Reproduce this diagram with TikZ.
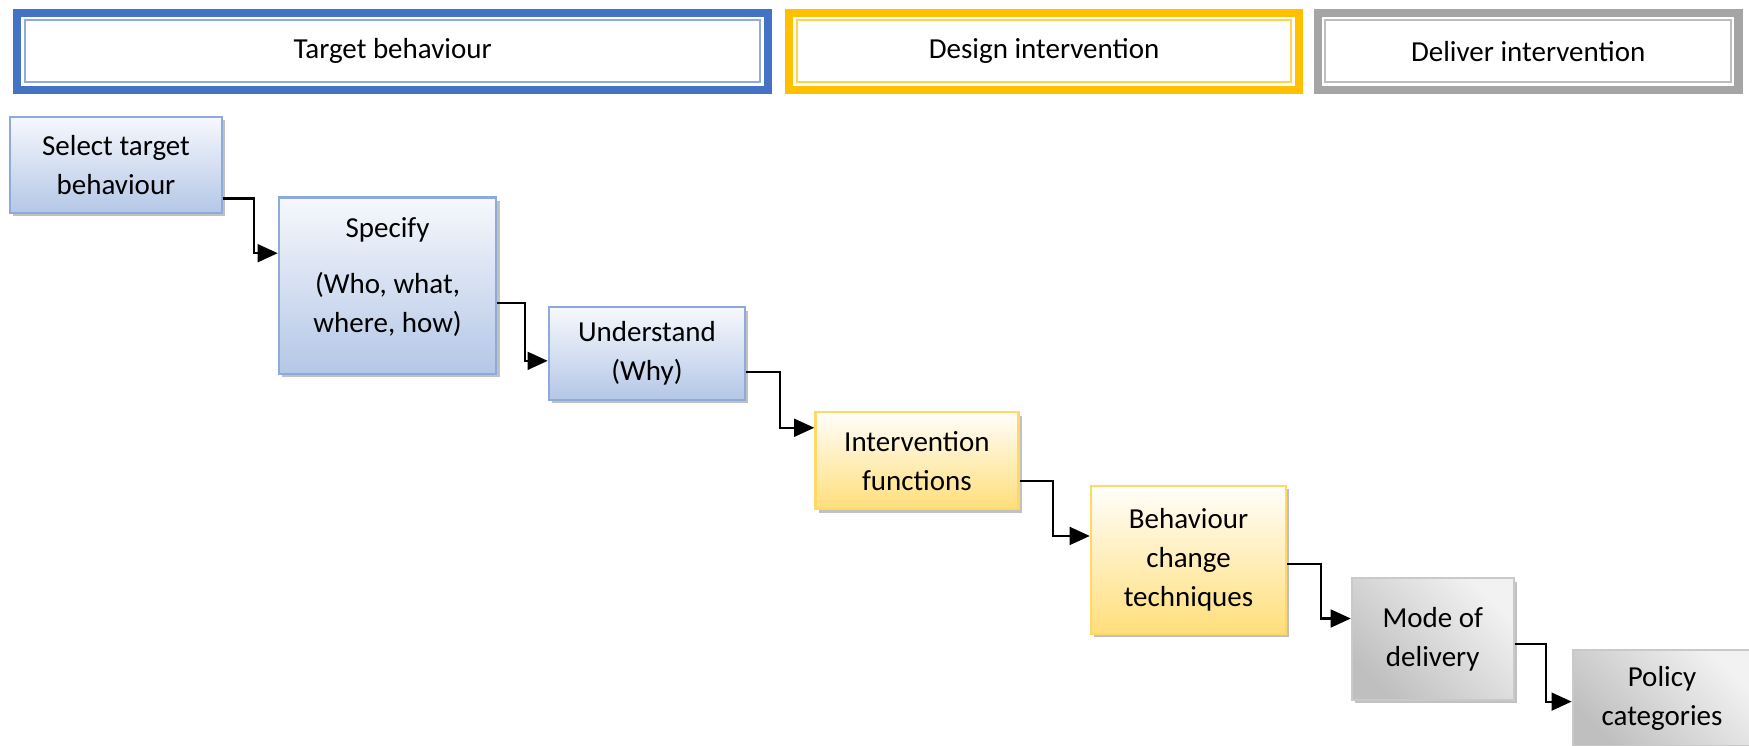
\documentclass[tikz,border=0pt]{standalone}
\usepackage{fontspec}
\setmainfont{Carlito}
\usetikzlibrary{arrows.meta,shadows,calc}
\definecolor{hblue}{HTML}{4472C4}
\definecolor{hblueL}{HTML}{8FAADC}
\definecolor{hyel}{HTML}{FFC000}
\definecolor{hyelL}{HTML}{FFD34D}
\definecolor{hgray}{HTML}{A5A5A5}
\definecolor{hgrayL}{HTML}{BDBDBD}
\definecolor{nbB}{HTML}{8EAADB}
\definecolor{nbBot}{HTML}{B4C7E7}
\definecolor{nbTop}{HTML}{F6F8FC}
\definecolor{nyB}{HTML}{FFD966}
\definecolor{nyBot}{HTML}{FFDE7A}
\definecolor{nyTop}{HTML}{FFFEFA}
\definecolor{ngB}{HTML}{C9C9C9}
\definecolor{ngDark}{HTML}{BFBFBF}
\definecolor{ngLight}{HTML}{F2F2F2}
\begin{document}
\begin{tikzpicture}[x=1pt,y=-1pt,
  font=\fontsize{26}{35}\selectfont,
  header/.style={draw=#1, fill=white, line width=7.5pt, minimum height=69pt, inner sep=0pt},
  inline/.style={draw=#1, line width=1.8pt},
  stepbox/.style={line width=2pt, align=center, inner sep=0pt,
    drop shadow={shadow xshift=3pt, shadow yshift=-3pt, opacity=0.35, fill=black!70}},
  bluebox/.style={stepbox, draw=nbB, top color=nbTop, bottom color=nbBot},
  yelbox/.style={stepbox, draw=nyB, top color=nyTop, bottom color=nyBot},
  graybox/.style={stepbox, draw=ngB, top color=ngLight, bottom color=ngDark, shading angle=-45},
  conn/.style={line width=1.9pt, -{Triangle[length=18pt,width=16pt]}}
]
\useasboundingbox (0,0) rectangle (1568,668);

% headers
\node[header=hblue, minimum width=673pt] (hd1) at (352,46) {Target behaviour};
\node[header=hyel, minimum width=457pt] (hd2) at (936,46) {Design intervention};
\node[header=hgray, minimum width=377pt] (hd3) at (1370,46) {Deliver intervention};
\draw[inline=hblueL] ([shift={(10.5pt,-10.5pt)}]hd1.north west) rectangle ([shift={(-10.5pt,10.5pt)}]hd1.south east);
\draw[inline=hyelL] ([shift={(10.5pt,-10.5pt)}]hd2.north west) rectangle ([shift={(-10.5pt,10.5pt)}]hd2.south east);
\draw[inline=hgrayL] ([shift={(10.5pt,-10.5pt)}]hd3.north west) rectangle ([shift={(-10.5pt,10.5pt)}]hd3.south east);

% steps
\node[bluebox, minimum width=190pt, minimum height=86pt] (n1) at (104,148) {Select target\\behaviour};
\node[bluebox, minimum width=195pt, minimum height=158pt] (n2) at (347.5,256) {Specify\\[15pt](Who, what,\\where, how)\\[-16pt]};
\node[bluebox, minimum width=176pt, minimum height=83pt] (n3) at (580,317) {Understand\\(Why)};
\node[yelbox, minimum width=182pt, minimum height=87pt] (n4) at (822,413) {Intervention\\functions};
\node[yelbox, minimum width=175pt, minimum height=133pt] (n5) at (1065.5,502) {Behaviour\\change\\techniques};
\node[graybox, minimum width=145pt, minimum height=109pt] (n6) at (1284.5,573) {Mode of\\delivery};
\node[graybox, minimum width=160pt, minimum height=86pt] (n7) at (1490,626) {Policy\\categories};

% connectors
\draw[conn] ([yshift=-30pt]n1.east) -- ++(28,0) |- ([yshift=29pt]n2.west);
\draw[conn] ([yshift=-16pt]n2.east) -- ++(25,0) |- ([yshift=-6.5pt]n3.west);
\draw[conn] ([yshift=-16.5pt]n3.east) -- ++(30,0) |- ([yshift=29.5pt]n4.west);
\draw[conn] ([yshift=-18.5pt]n4.east) -- ++(30,0) |- ([yshift=21.5pt]n5.west);
\draw[conn] ([yshift=-3.5pt]n5.east) -- ++(30,0) |- ([yshift=18.5pt]n6.west);
\draw[conn] ([yshift=-4.5pt]n6.east) -- ++(28,0) |- ([yshift=-3pt]n7.west);
\end{tikzpicture}
\end{document}
